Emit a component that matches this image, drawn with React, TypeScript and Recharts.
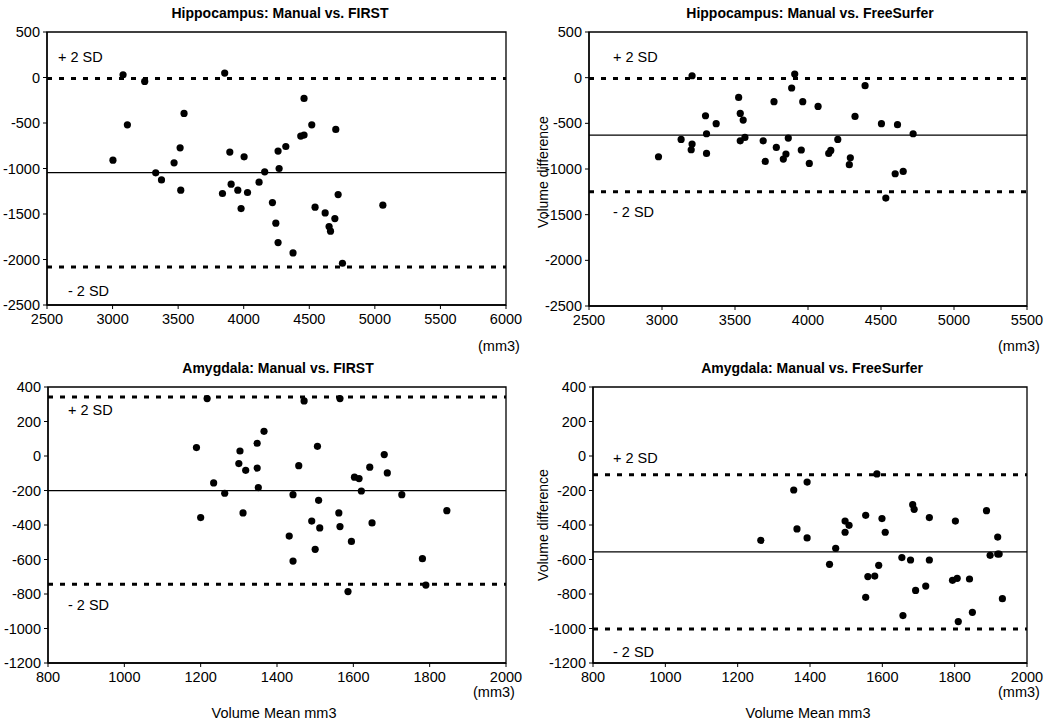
import React from "react";
import {
  ReferenceArea,
  ReferenceLine,
  Scatter,
  ScatterChart,
  XAxis,
  YAxis,
} from "recharts";

// Hippocampus, Manual vs. FIRST
const hipFirstMean = [
  3080, 3855, 3245, 3113, 3545, 3515, 3003, 3469, 3329, 3373, 3520, 3894, 4003,
  3838, 3904, 3955, 4029, 3980, 4117, 4460, 4519, 4702, 4435, 4460, 4321, 4262,
  4270, 4160, 4219, 4245, 4262, 4376, 4544, 4621, 4695, 4651, 4662, 4720, 4753,
  5061,
];
const hipFirstDiff = [
  30, 49, -43, -520, -395, -773, -908, -938, -1048, -1125, -1238, -820, -872,
  -1275, -1172, -1238, -1264, -1440, -1150, -230, -520, -571, -644, -633, -758,
  -809, -1000, -1037, -1374, -1601, -1814, -1928, -1425, -1488, -1550, -1638,
  -1689, -1286, -2041, -1403,
];
const hipFirstLines = [-10, -1045, -2082];

// Hippocampus, Manual vs. FreeSurfer
const hipFsMean = [
  3206, 2976, 3131, 3206, 3200, 3298, 3305, 3305, 3371, 3525, 3536, 3556, 3536,
  3568, 3693, 3707, 3767, 3783, 3888, 3865, 3831, 3849, 3909, 4391, 3964, 4069,
  4322, 4503, 4613, 4720, 3954, 4009, 4142, 4156, 4204, 4290, 4283, 4597, 4652,
  4533,
];
const hipFsDiff = [
  21, -866, -676, -727, -789, -417, -614, -830, -504, -216, -391, -464, -691,
  -654, -691, -917, -263, -764, -113, -661, -891, -836, 40, -88, -263, -315,
  -424, -504, -515, -614, -792, -939, -830, -797, -676, -877, -953, -1052, -1027,
  -1318,
];
const hipFsLines = [-10, -630, -1250];

// Amygdala, Manual vs. FIRST
const amyFirstMean = [
  1217, 1189, 1303, 1348, 1300, 1318, 1348, 1234, 1263, 1351, 1200, 1311, 1366,
  1471, 1565, 1506, 1457, 1442, 1509, 1562, 1491, 1512, 1565, 1432, 1500, 1442,
  1595, 1586, 1603, 1615, 1621, 1643, 1649, 1681, 1689, 1727, 1781, 1790, 1845,
];
const amyFirstDiff = [
  333, 49, 29, 74, -44, -83, -70, -156, -216, -183, -357, -330, 143, 319, 333,
  56, -56, -224, -257, -330, -377, -417, -409, -464, -541, -609, -495, -786,
  -123, -131, -203, -65, -388, 8, -98, -224, -595, -748, -317,
];
const amyFirstLines = [342, -201, -744];

// Amygdala, Manual vs. FreeSurfer
const amyFsMean = [
  1264, 1355, 1392, 1364, 1392, 1471, 1454, 1497, 1508, 1497, 1554, 1585, 1599,
  1608, 1590, 1560, 1579, 1554, 1684, 1688, 1730, 1654, 1678, 1730, 1692, 1720,
  1657, 1802, 1794, 1807, 1841, 1810, 1849, 1888, 1919, 1898, 1919, 1923, 1932,
];
const amyFsDiff = [
  -489, -197, -151, -423, -475, -535, -628, -377, -402, -442, -344, -104, -363,
  -442, -634, -699, -696, -819, -282, -309, -357, -589, -603, -603, -779, -754,
  -925, -377, -721, -709, -713, -960, -906, -317, -470, -576, -568, -568, -827,
];
const amyFsLines = [-108, -556, -1003];

const hipXTicksFirst = [2500, 3000, 3500, 4000, 4500, 5000, 5500, 6000];
const hipXTicksFs = [2500, 3000, 3500, 4000, 4500, 5000, 5500];
const hipYTicks = [500, 0, -500, -1000, -1500, -2000, -2500];
const amyXTicks = [800, 1000, 1200, 1400, 1600, 1800, 2000];
const amyYTicks = [400, 200, 0, -200, -400, -600, -800, -1000, -1200];

const FONT = "'Liberation Sans', Arial, Helvetica, sans-serif";

type PanelProps = {
  left: number;
  top: number;
  width: number;
  height: number;
  yWidth: number;
  marginTop: number;
  marginRight: number;
  marginBottom: number;
  xs: number[];
  ys: number[];
  lines: number[];
  xTicks: number[];
  yTicks: number[];
};

function Panel(props: PanelProps) {
  const { xs, ys, lines, xTicks, yTicks } = props;
  const pts = xs.map((x, i) => ({ x, y: ys[i] }));
  const xDom = [xTicks[0], xTicks[xTicks.length - 1]];
  const yDom = [yTicks[yTicks.length - 1], yTicks[0]];
  const tick = { fill: "#000", fontSize: 14.5, fontFamily: FONT };
  return (
    <div
      style={{ position: "absolute", left: props.left, top: props.top }}
    >
      <ScatterChart
        width={props.width}
        height={props.height}
        margin={{
          top: props.marginTop,
          right: props.marginRight,
          left: 0,
          bottom: props.marginBottom,
        }}
      >
        <XAxis
          type="number"
          dataKey="x"
          domain={xDom}
          ticks={xTicks}
          allowDataOverflow
          height={30}
          tick={tick}
          tickSize={4}
          tickMargin={5}
          axisLine={{ stroke: "#000", strokeWidth: 1.3 }}
          tickLine={{ stroke: "#000" }}
        />
        <YAxis
          type="number"
          dataKey="y"
          domain={yDom}
          ticks={yTicks}
          allowDataOverflow
          width={props.yWidth}
          tick={tick}
          tickSize={4}
          tickMargin={3}
          axisLine={{ stroke: "#000", strokeWidth: 1.3 }}
          tickLine={{ stroke: "#000" }}
        />
        <ReferenceArea
          x1={xDom[0]}
          x2={xDom[1]}
          y1={yDom[0]}
          y2={yDom[1]}
          fill="none"
          stroke="#000"
          strokeWidth={1.3}
          fillOpacity={0}
        />
        <ReferenceLine
          y={lines[0]}
          stroke="#000"
          strokeWidth={3}
          strokeDasharray="5 7"
        />
        <ReferenceLine y={lines[1]} stroke="#000" strokeWidth={1.3} />
        <ReferenceLine
          y={lines[2]}
          stroke="#000"
          strokeWidth={3}
          strokeDasharray="5 7"
        />
        <Scatter
          data={pts}
          isAnimationActive={false}
          shape={(p: any) => (
            <circle cx={p.cx} cy={p.cy} r={3.6} fill="#000" />
          )}
        />
      </ScatterChart>
    </div>
  );
}

function Txt({
  x,
  y,
  children,
  center,
  bold,
  size = 14.5,
  rotate,
}: {
  x: number;
  y: number;
  children: React.ReactNode;
  center?: boolean;
  bold?: boolean;
  size?: number;
  rotate?: boolean;
}) {
  return (
    <div
      style={{
        position: "absolute",
        left: x,
        top: y,
        transform: rotate
          ? "translate(-50%, -50%) rotate(-90deg)"
          : center
            ? "translate(-50%, -50%)"
            : "translateY(-50%)",
        fontFamily: FONT,
        fontSize: size,
        fontWeight: bold ? 700 : 400,
        whiteSpace: "nowrap",
        color: "#000",
        lineHeight: 1,
      }}
    >
      {children}
    </div>
  );
}

export default function App() {
  return (
    <div
      style={{
        position: "absolute",
        left: 0,
        top: 0,
        width: 1050,
        height: 723,
        background: "#fff",
        overflow: "hidden",
      }}
    >
      <Panel
        left={0}
        top={0}
        width={525}
        height={340}
        yWidth={47}
        marginTop={32}
        marginRight={19}
        marginBottom={5}
        xs={hipFirstMean}
        ys={hipFirstDiff}
        lines={hipFirstLines}
        xTicks={hipXTicksFirst}
        yTicks={hipYTicks}
      />
      <Panel
        left={525}
        top={0}
        width={525}
        height={340}
        yWidth={64}
        marginTop={32}
        marginRight={23}
        marginBottom={4}
        xs={hipFsMean}
        ys={hipFsDiff}
        lines={hipFsLines}
        xTicks={hipXTicksFs}
        yTicks={hipYTicks}
      />
      <Panel
        left={0}
        top={350}
        width={525}
        height={350}
        yWidth={48}
        marginTop={37}
        marginRight={19}
        marginBottom={7}
        xs={amyFirstMean}
        ys={amyFirstDiff}
        lines={amyFirstLines}
        xTicks={amyXTicks}
        yTicks={amyYTicks}
      />
      <Panel
        left={525}
        top={350}
        width={525}
        height={350}
        yWidth={68}
        marginTop={37}
        marginRight={23}
        marginBottom={7}
        xs={amyFsMean}
        ys={amyFsDiff}
        lines={amyFsLines}
        xTicks={amyXTicks}
        yTicks={amyYTicks}
      />

      <Txt x={280} y={13} center bold size={14}>
        Hippocampus: Manual vs. FIRST
      </Txt>
      <Txt x={810} y={13} center bold size={14}>
        Hippocampus: Manual vs. FreeSurfer
      </Txt>
      <Txt x={278} y={368} center bold size={14}>
        Amygdala: Manual vs. FIRST
      </Txt>
      <Txt x={812} y={368} center bold size={14}>
        Amygdala: Manual vs. FreeSurfer
      </Txt>

      <Txt x={58} y={57}>+ 2 SD</Txt>
      <Txt x={68} y={291}>- 2 SD</Txt>
      <Txt x={613} y={57}>+ 2 SD</Txt>
      <Txt x={613} y={212}>- 2 SD</Txt>
      <Txt x={68} y={410}>+ 2 SD</Txt>
      <Txt x={68} y={605}>- 2 SD</Txt>
      <Txt x={613} y={458}>+ 2 SD</Txt>
      <Txt x={613} y={652}>- 2 SD</Txt>

      <Txt x={478} y={346}>(mm3)</Txt>
      <Txt x={998} y={346}>(mm3)</Txt>
      <Txt x={473} y={692}>(mm3)</Txt>
      <Txt x={998} y={692}>(mm3)</Txt>

      <Txt x={274} y={713} center>
        Volume Mean mm3
      </Txt>
      <Txt x={808} y={713} center>
        Volume Mean mm3
      </Txt>

      <Txt x={543} y={172} rotate size={14}>
        Volume difference
      </Txt>
      <Txt x={543} y={525} rotate size={14}>
        Volume difference
      </Txt>
    </div>
  );
}
